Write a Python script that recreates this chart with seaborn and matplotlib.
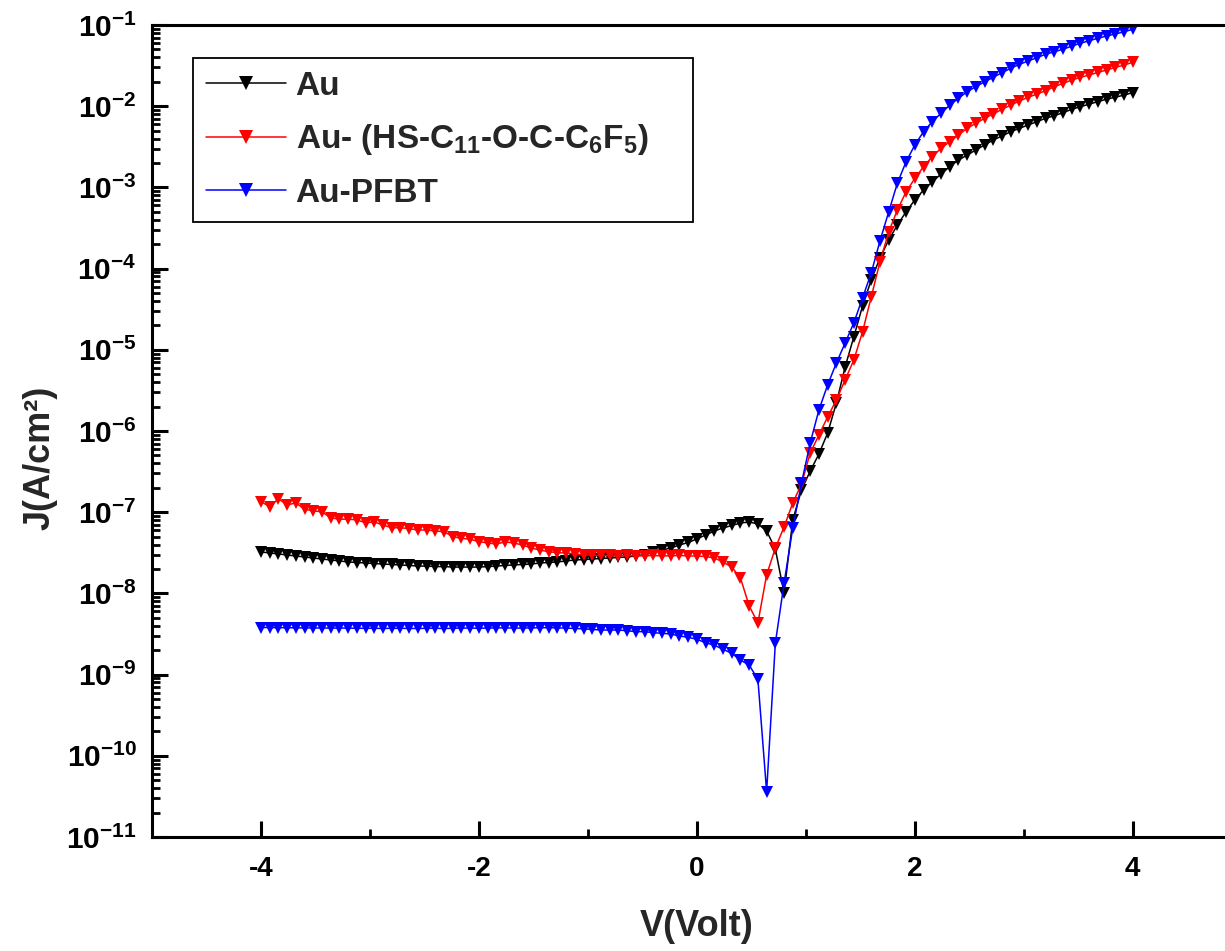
import numpy as np
import matplotlib
matplotlib.use("Agg")
import matplotlib.pyplot as plt
import seaborn as sns
from matplotlib.ticker import LogLocator, FixedLocator, MultipleLocator, FuncFormatter, NullFormatter

# ---------------- data ----------------
voltage = [
    -4.00, -3.92, -3.84, -3.76, -3.68, -3.60, -3.52, -3.44, -3.36, -3.28,
    -3.20, -3.12, -3.04, -2.96, -2.88, -2.80, -2.72, -2.64, -2.56, -2.48,
    -2.40, -2.32, -2.24, -2.16, -2.08, -2.00, -1.92, -1.84, -1.76, -1.68,
    -1.60, -1.52, -1.44, -1.36, -1.28, -1.20, -1.12, -1.04, -0.96, -0.88,
    -0.80, -0.72, -0.64, -0.56, -0.48, -0.40, -0.32, -0.24, -0.16, -0.08,
    0.00, 0.08, 0.16, 0.24, 0.32, 0.40, 0.48, 0.56, 0.64, 0.72,
    0.80, 0.88, 0.96, 1.04, 1.12, 1.20, 1.28, 1.36, 1.44, 1.52,
    1.60, 1.68, 1.76, 1.84, 1.92, 2.00, 2.08, 2.16, 2.24, 2.32,
    2.40, 2.48, 2.56, 2.64, 2.72, 2.80, 2.88, 2.96, 3.04, 3.12,
    3.20, 3.28, 3.36, 3.44, 3.52, 3.60, 3.68, 3.76, 3.84, 3.92,
    4.00,
]

j_au = [
    3.24e-8, 3.15e-8, 3.06e-8, 2.97e-8, 2.89e-8, 2.81e-8, 2.73e-8, 2.65e-8, 2.58e-8, 2.51e-8,
    2.44e-8, 2.40e-8, 2.37e-8, 2.33e-8, 2.30e-8, 2.27e-8, 2.24e-8, 2.21e-8, 2.17e-8, 2.17e-8,
    2.14e-8, 2.14e-8, 2.11e-8, 2.11e-8, 2.11e-8, 2.11e-8, 2.14e-8, 2.17e-8, 2.21e-8, 2.24e-8,
    2.27e-8, 2.30e-8, 2.37e-8, 2.40e-8, 2.44e-8, 2.51e-8, 2.58e-8, 2.61e-8, 2.65e-8, 2.69e-8,
    2.73e-8, 2.77e-8, 2.81e-8, 2.89e-8, 3.01e-8, 3.19e-8, 3.42e-8, 3.62e-8, 3.94e-8, 4.24e-8,
    4.68e-8, 5.24e-8, 5.87e-8, 6.39e-8, 6.86e-8, 7.36e-8, 7.57e-8, 7.16e-8, 5.87e-8, 3.52e-8,
    1.01e-8, 8.02e-8, 1.88e-7, 3.21e-7, 5.21e-7, 9.45e-7, 2.21e-6, 6.14e-6, 1.44e-5, 3.46e-5,
    7.24e-5, 1.35e-4, 2.25e-4, 3.44e-4, 5.02e-4, 7.00e-4, 9.29e-4, 1.17e-3, 1.46e-3, 1.80e-3,
    2.17e-3, 2.50e-3, 2.89e-3, 3.33e-3, 3.84e-3, 4.30e-3, 4.85e-3, 5.34e-3, 5.87e-3, 6.45e-3,
    7.10e-3, 7.64e-3, 8.32e-3, 9.16e-3, 9.86e-3, 1.06e-2, 1.14e-2, 1.22e-2, 1.29e-2, 1.37e-2,
    1.47e-2,
]

j_au_c11 = [
    1.35e-7, 1.17e-7, 1.46e-7, 1.23e-7, 1.30e-7, 1.09e-7, 1.04e-7, 1.01e-7, 8.55e-8, 8.18e-8,
    8.24e-8, 8.02e-8, 7.43e-8, 7.57e-8, 6.95e-8, 6.44e-8, 6.44e-8, 6.27e-8, 6.04e-8, 6.04e-8,
    5.87e-8, 5.75e-8, 4.99e-8, 4.77e-8, 4.64e-8, 4.34e-8, 4.18e-8, 4.06e-8, 4.30e-8, 4.18e-8,
    3.94e-8, 3.62e-8, 3.42e-8, 3.26e-8, 3.17e-8, 3.15e-8, 3.06e-8, 2.97e-8, 2.97e-8, 2.93e-8,
    2.93e-8, 2.90e-8, 2.93e-8, 2.90e-8, 2.90e-8, 2.93e-8, 2.90e-8, 2.90e-8, 2.93e-8, 2.90e-8,
    2.88e-8, 2.85e-8, 2.73e-8, 2.44e-8, 2.11e-8, 1.55e-8, 7.00e-9, 4.32e-9, 1.69e-8, 3.62e-8,
    6.58e-8, 1.30e-7, 2.22e-7, 5.36e-7, 8.93e-7, 1.49e-6, 2.41e-6, 4.25e-6, 7.49e-6, 1.66e-5,
    4.47e-5, 1.21e-4, 2.82e-4, 5.27e-4, 8.85e-4, 1.29e-3, 1.80e-3, 2.39e-3, 3.03e-3, 3.66e-3,
    4.42e-3, 5.34e-3, 6.16e-3, 7.10e-3, 8.02e-3, 9.16e-3, 1.03e-2, 1.16e-2, 1.29e-2, 1.41e-2,
    1.55e-2, 1.74e-2, 1.91e-2, 2.10e-2, 2.27e-2, 2.42e-2, 2.61e-2, 2.79e-2, 3.01e-2, 3.21e-2,
    3.48e-2,
]

j_au_pfbt = [
    3.80e-9, 3.80e-9, 3.78e-9, 3.78e-9, 3.76e-9, 3.76e-9, 3.75e-9, 3.75e-9, 3.74e-9, 3.74e-9,
    3.74e-9, 3.72e-9, 3.72e-9, 3.72e-9, 3.70e-9, 3.72e-9, 3.72e-9, 3.70e-9, 3.70e-9, 3.72e-9,
    3.72e-9, 3.70e-9, 3.72e-9, 3.74e-9, 3.74e-9, 3.72e-9, 3.74e-9, 3.76e-9, 3.76e-9, 3.74e-9,
    3.74e-9, 3.76e-9, 3.78e-9, 3.78e-9, 3.76e-9, 3.74e-9, 3.70e-9, 3.66e-9, 3.60e-9, 3.54e-9,
    3.54e-9, 3.54e-9, 3.47e-9, 3.38e-9, 3.38e-9, 3.28e-9, 3.23e-9, 3.16e-9, 2.99e-9, 2.88e-9,
    2.72e-9, 2.47e-9, 2.30e-9, 2.05e-9, 1.83e-9, 1.51e-9, 1.31e-9, 8.75e-10, 3.61e-11, 2.43e-9,
    1.33e-8, 6.39e-8, 2.29e-7, 7.11e-7, 1.82e-6, 3.69e-6, 6.88e-6, 1.21e-5, 2.14e-5, 4.35e-5,
    8.83e-5, 2.19e-4, 4.98e-4, 1.13e-3, 2.07e-3, 3.33e-3, 4.85e-3, 6.45e-3, 8.18e-3, 1.03e-2,
    1.25e-2, 1.51e-2, 1.74e-2, 2.00e-2, 2.27e-2, 2.59e-2, 2.93e-2, 3.28e-2, 3.60e-2, 3.96e-2,
    4.36e-2, 4.69e-2, 5.02e-2, 5.51e-2, 5.95e-2, 6.41e-2, 6.86e-2, 7.33e-2, 7.75e-2, 8.26e-2,
    8.85e-2,
]

series_labels = ["Au", r"Au- (HS-C$_{11}$-O-C-C$_{6}$F$_{5}$)", "Au-PFBT"]
series_colors = ["#000000", "#ff0000", "#0000ff"]
x_tick_values = [-4, -2, 0, 2, 4]
x_label = "V(Volt)"
y_label = "J(A/cm²)"

# ---------------- style ----------------
sns.set_theme(style="ticks")
plt.rcParams.update({
    "font.family": ["Liberation Sans", "DejaVu Sans"],
    "font.weight": "bold",
    "axes.unicode_minus": False,
    "mathtext.fontset": "custom",
    "mathtext.rm": "Liberation Sans:bold",
    "mathtext.it": "Liberation Sans:bold",
    "mathtext.bf": "Liberation Sans:bold",
    "mathtext.sf": "Liberation Sans:bold",
    "mathtext.default": "bf",
})

W, H = 1225, 951
fig = plt.figure(figsize=(W / 100, H / 100), dpi=100)
ax_left, ax_right, ax_top, ax_bottom = 152, 1241.75, 25, 837
ax = fig.add_axes([ax_left / W, (H - ax_bottom) / H,
                   (ax_right - ax_left) / W, (ax_bottom - ax_top) / H])
ax.set_yscale("log")

for ys, lab, col in zip([j_au, j_au_c11, j_au_pfbt], series_labels, series_colors):
    sns.lineplot(x=voltage, y=ys, ax=ax, color=col, marker="v", markersize=8.5,
                 markeredgewidth=0, linewidth=1.1, label=lab, sort=False,
                 errorbar=None)

ax.set_xlim(-5, 5)
ax.set_ylim(1e-11, 1e-1)

ax.xaxis.set_major_locator(FixedLocator(x_tick_values))
ax.xaxis.set_minor_locator(MultipleLocator(1))
ax.yaxis.set_major_locator(LogLocator(base=10, numticks=20))
ax.yaxis.set_minor_locator(LogLocator(base=10, subs=np.arange(2, 10), numticks=20))
ax.yaxis.set_major_formatter(
    FuncFormatter(lambda v, p: r"$10^{%d}$" % int(round(np.log10(v)))))
ax.yaxis.set_minor_formatter(NullFormatter())

ax.tick_params(axis="both", which="major", direction="in", length=11.5, width=2.2,
               color="black", labelcolor="black")
ax.tick_params(axis="both", which="minor", direction="in", length=6, width=2.0,
               color="black")
ax.tick_params(axis="x", which="major", labelsize=20, pad=14)
ax.tick_params(axis="y", which="major", labelsize=21.5, pad=11)
ax.tick_params(top=False, right=False, which="both")
for lbl in ax.get_xticklabels() + ax.get_yticklabels():
    lbl.set_fontweight("bold")

for sp in ax.spines.values():
    sp.set_linewidth(2.2)
    sp.set_color("black")

ax.set_xlabel(x_label, fontsize=26, fontweight="bold")
ax.set_ylabel(y_label, fontsize=26, fontweight="bold")
axw = ax_right - ax_left
axh = ax_bottom - ax_top
ax.xaxis.set_label_coords((697 - ax_left) / axw, (ax_bottom - 909) / axh)
ax.yaxis.set_label_coords((58 - ax_left) / axw, (ax_bottom - 458) / axh)

leg = ax.legend(loc="upper left",
                bbox_to_anchor=((193 - ax_left) / axw, 0.0, 500 / axw, (ax_bottom - 58) / axh),
                mode="expand", borderaxespad=0, fontsize=24, frameon=True,
                fancybox=False, edgecolor="black", framealpha=1,
                handlelength=2.4, handletextpad=0.3, labelspacing=0.62,
                borderpad=0.38, numpoints=1, markerscale=1.2)
leg.get_frame().set_linewidth(1.3)
for t in leg.get_texts():
    t.set_fontweight("bold")

fig.savefig("out.png", dpi=100)
